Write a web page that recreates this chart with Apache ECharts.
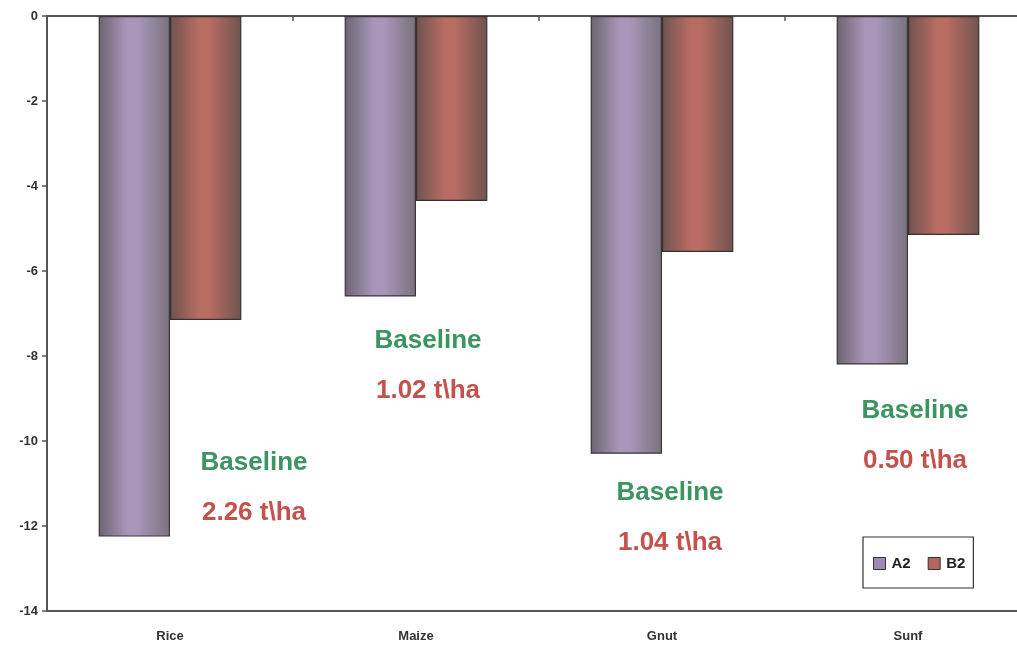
<!DOCTYPE html>
<html>
<head>
<meta charset="utf-8">
<title>Yield change by crop</title>
<script src="https://cdn.jsdelivr.net/npm/echarts@6/dist/echarts.min.js"></script>
<style>
  html, body { margin: 0; padding: 0; background: #fff; }
  #chart { width: 1017px; height: 648px; }
</style>
</head>
<body>
<div id="chart"></div>
<script>
// Crops on the category axis
const crops = ['Rice', 'Maize', 'Gnut', 'Sunf'];
// Percent change in yield under the two scenarios
const seriesA2 = [-12.25, -6.6, -10.3, -8.2];
const seriesB2 = [-7.15, -4.35, -5.55, -5.15];
// Baseline yields written beside each crop group
const baselineYield = ['2.26', '1.02', '1.04', '0.50'];
// Value axis range and step
const yMin = -14, yMax = 0, yStep = 2;

const FONT = '"Liberation Sans Narrow", "Liberation Sans", Arial, sans-serif';

function barGradient(edge, mid, edge2) {
  return new echarts.graphic.LinearGradient(0, 0, 1, 0, [
    { offset: 0, color: edge },
    { offset: 0.4, color: mid },
    { offset: 0.55, color: mid },
    { offset: 1, color: edge2 }
  ]);
}

const chart = echarts.init(document.getElementById('chart'), null, { renderer: 'canvas' });

const option = {
  animation: false,
  backgroundColor: '#ffffff',
  // plot area runs a little past the right edge of the canvas
  grid: { left: 47, top: 16, width: 984, bottom: 37, containLabel: false, outerBoundsMode: 'none' },
  legend: {
    left: 863, top: 537,
    padding: [19, 8, 17, 10],
    itemWidth: 12, itemHeight: 12, itemGap: 17,
    borderColor: '#333', borderWidth: 1.2,
    icon: 'rect',
    textStyle: { fontFamily: FONT, fontSize: 15, fontWeight: 'bold', color: '#222', padding: [0, 0, 0, 1] },
    data: [
      { name: 'A2', itemStyle: { color: '#9d8bb2', borderColor: '#333', borderWidth: 1 } },
      { name: 'B2', itemStyle: { color: '#b5655c', borderColor: '#333', borderWidth: 1 } }
    ]
  },
  xAxis: [
    {
      // zero line along the top with boundary ticks
      type: 'category', data: crops, position: 'top',
      axisLine: { show: true, onZero: false, lineStyle: { color: '#555', width: 2 } },
      axisTick: { show: true, inside: true, length: 5, lineStyle: { color: '#555', width: 1.5 } },
      axisLabel: { show: false },
      splitLine: { show: false }
    },
    {
      // lower edge carrying the crop names
      type: 'category', data: crops, position: 'bottom',
      axisLine: { show: true, onZero: false, lineStyle: { color: '#555', width: 2 } },
      axisTick: { show: false },
      axisLabel: { margin: 19, fontFamily: FONT, fontSize: 13, fontWeight: 'bold', color: '#333' },
      splitLine: { show: false }
    }
  ],
  yAxis: {
    type: 'value', min: yMin, max: yMax, interval: yStep,
    axisLine: { show: true, lineStyle: { color: '#555', width: 2 } },
    axisTick: { show: true, length: 5, lineStyle: { color: '#555', width: 1.5 } },
    axisLabel: { margin: 9, fontFamily: FONT, fontSize: 13, fontWeight: 'bold', color: '#333' },
    splitLine: { show: false }
  },
  series: [
    {
      name: 'A2', type: 'bar', xAxisIndex: 0, data: seriesA2,
      barGap: '0%', barCategoryGap: '42%',
      itemStyle: {
        color: barGradient('#6c6470', '#a896b8', '#7a727e'),
        borderColor: '#3a3538', borderWidth: 1.2
      }
    },
    {
      name: 'B2', type: 'bar', xAxisIndex: 0, data: seriesB2,
      barGap: '0%', barCategoryGap: '42%',
      itemStyle: {
        color: barGradient('#6e5350', '#b86c62', '#6f5450'),
        borderColor: '#3a3030', borderWidth: 1.2
      }
    }
  ]
};

chart.setOption(option);

// Baseline notes beside each crop group
const notePlaces = [
  { x: 254, y: 463 },
  { x: 428, y: 341 },
  { x: 670, y: 493 },
  { x: 915, y: 411 }
];
const notes = [];
baselineYield.forEach(function (v, i) {
  const p = notePlaces[i];
  notes.push({
    type: 'text', x: p.x, y: p.y,
    style: { text: 'Baseline', fill: '#3a9560', font: 'bold 26px "Liberation Sans", Arial, sans-serif', align: 'center', verticalAlign: 'middle' }
  });
  notes.push({
    type: 'text', x: p.x, y: p.y + 50,
    style: { text: v + ' t\\ha', fill: '#c4514b', font: 'bold 26px "Liberation Sans", Arial, sans-serif', align: 'center', verticalAlign: 'middle' }
  });
});
chart.setOption({ graphic: notes });
</script>
</body>
</html>
